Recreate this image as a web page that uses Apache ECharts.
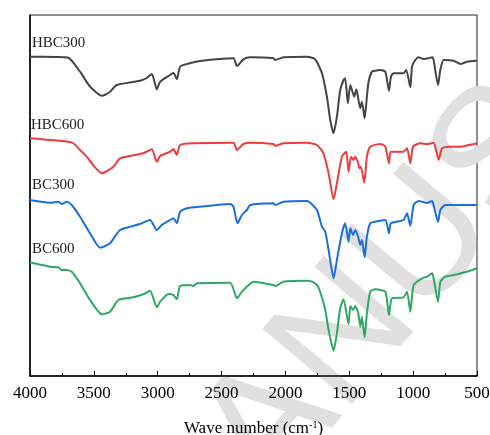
<!DOCTYPE html>
<html>
<head>
<meta charset="utf-8">
<script src="https://cdn.jsdelivr.net/npm/echarts@6/dist/echarts.min.js"></script>
<style>html,body{margin:0;padding:0;background:#fff;}#c{width:490px;height:435px;}</style>
</head>
<body>
<div id="c"></div>
<script>
// Wavenumber (cm-1), offset transmittance (a.u.)
var HBC300 = [[4000,319.3],[3800,319],[3700,318.3],[3608,304.3],[3530,289.3],[3438,280.3],[3373,284.3],[3321,291],[3138,295.3],[3086,298],[3046,302],[3007,286.7],[2981,294.3],[2903,301],[2877,303.3],[2850,296.7],[2825,309.3],[2772,312],[2668,315],[2407,317.7],[2380,310],[2329,316.7],[2276,318.7],[2094,317.7],[2080,316],[2015,318.7],[1832,319.3],[1767,316.7],[1714,302.7],[1675,279.3],[1649,256],[1623,242.7],[1597,259.3],[1571,286],[1545,296],[1532,297.7],[1511,272.7],[1492,291],[1461,279.3],[1445,286.7],[1414,267.7],[1401,274.3],[1380,257.7],[1362,279.3],[1349,294.3],[1323,304.3],[1297,305.3],[1257,306],[1218,304.3],[1189,285.3],[1174,299.3],[1153,302.7],[1075,302.7],[1054,306],[1022,288.7],[1009,309.3],[983,316],[957,318.7],[918,317],[879,317.7],[852,318.7],[840,316],[805,291],[787,306],[761,316],[683,315.3],[630,312],[578,314.3],[500,315.3]];
var HBC600 = [[4000,237.7],[3700,234.3],[3661,232.7],[3608,226],[3556,219.3],[3500,210],[3438,202.7],[3347,209.3],[3295,217.7],[3138,222],[3086,224.3],[3046,226.7],[3007,214.3],[2981,220],[2903,224.3],[2877,227],[2850,221],[2825,231],[2720,232.7],[2407,233.3],[2380,226],[2329,232],[2276,233.3],[2094,232],[2080,230.3],[2015,232.7],[1832,233.3],[1753,231],[1702,222.7],[1662,202.7],[1623,176.7],[1597,192.7],[1558,219.3],[1524,224.3],[1506,204.3],[1487,219.3],[1467,216],[1453,219.3],[1430,213],[1420,207.7],[1409,209.3],[1383,193.3],[1362,219.3],[1336,229.3],[1257,232],[1218,229.3],[1189,212.7],[1174,224.3],[1075,224.3],[1048,227.7],[1022,212.7],[1001,229.3],[944,232.7],[891,232],[840,233.3],[800,216],[774,227.7],[722,229.3],[630,229.3],[526,232],[500,232.7]];
var BC300 = [[4000,176],[3843,173.3],[3778,174.3],[3752,172],[3712,174.3],[3673,171],[3608,159.3],[3530,142.7],[3451,128.3],[3373,132.7],[3295,146],[3138,152],[3060,156],[3007,146],[2968,151],[2903,156],[2877,157.7],[2850,152.7],[2825,164.3],[2772,167.7],[2668,169.3],[2433,172],[2407,169.3],[2376,152.7],[2341,161],[2302,166],[2276,171],[2094,172.7],[2080,171],[2015,174.3],[1832,175],[1806,173.3],[1753,166],[1714,149.3],[1688,144.3],[1662,126],[1623,97.7],[1597,116],[1558,142.7],[1532,152.7],[1506,134.3],[1492,147.7],[1471,141],[1453,146],[1430,139],[1414,131],[1401,136],[1380,118.7],[1362,139.3],[1336,152.7],[1297,154.3],[1218,156],[1189,142.7],[1174,152.7],[1075,156],[1048,162.7],[1022,150],[996,171],[957,175],[930,174.3],[891,173],[852,175],[840,171],[805,154.3],[787,166],[748,171],[683,171],[500,171]];
var BC600 = [[4000,113.7],[3843,109.3],[3778,108.7],[3752,106],[3712,106],[3673,104.3],[3608,92.7],[3530,76],[3438,61.7],[3373,64.3],[3308,76],[3191,78.7],[3112,81.7],[3060,85.3],[3007,68.7],[2981,74.3],[2916,82],[2877,81],[2850,76.7],[2825,90],[2746,91],[2720,90],[2694,92.7],[2433,93.3],[2380,77.7],[2341,84.3],[2302,89.3],[2250,94.3],[2094,91],[2080,90],[2015,94.3],[1832,95.3],[1792,94.3],[1753,91],[1728,84.3],[1688,66],[1662,46],[1623,25.3],[1597,42.7],[1571,67.7],[1545,76.7],[1506,52],[1492,70],[1471,66],[1453,70],[1430,63],[1414,49.3],[1401,59],[1380,38.7],[1362,62.7],[1336,84.3],[1297,86.7],[1218,84.3],[1189,61],[1166,77.7],[1075,78.7],[1048,84.3],[1022,64.3],[996,91],[930,97.7],[891,99.3],[852,102.7],[840,98],[805,74.3],[787,94.3],[748,99.3],[683,101],[578,104.3],[500,107.7]];

var seriesNames = ['HBC300','HBC600','BC300','BC600'];
var seriesData = [HBC300, HBC600, BC300, BC600];
var seriesColors = ['#444444','#ee3b3d','#1a6ee0','#2ea862'];
var xTicks = [4000,3500,3000,2500,2000,1500,1000,500];

var serif = '"Liberation Serif","Times New Roman",serif';
var chart = echarts.init(document.getElementById('c'), null, {renderer:'canvas'});

var labelPos = [[32,43],[31,125],[32,185],[32,249]];
var graphics = labelPos.map(function(p,i){
  return {type:'text', x:p[0], y:p[1], z:5,
    style:{text:seriesNames[i], font:'15px '+serif, fill:'#222', textAlign:'left', textVerticalAlign:'middle'}};
});
graphics.unshift({type:'text', x:505, y:150, rotation:0.87, z:0,
  style:{text:'MANUSCRIPT', font:'170px "Liberation Sans",Arial,sans-serif', fill:'#e0e0e0', textAlign:'center', textVerticalAlign:'middle'}});

chart.setOption({
  animation:false,
  backgroundColor:'#fff',
  grid:{left:30, right:13, top:15, bottom:59, outerBoundsMode:'none', containLabel:false, show:true, borderColor:'#222', borderWidth:1, backgroundColor:'transparent'},
  graphic:graphics,
  xAxis:{
    type:'value', inverse:true, min:500, max:4000, interval:500,
    splitLine:{show:false},
    axisLine:{show:true, onZero:false, lineStyle:{color:'#000', width:1.5}},
    axisTick:{show:true, inside:true, length:5, lineStyle:{color:'#000', width:1}},
    minorTick:{show:true, splitNumber:2, length:3, lineStyle:{color:'#000', width:1}},
    axisLabel:{color:'#000', fontFamily:serif, fontSize:17, margin:9,
      formatter:function(v){return xTicks.indexOf(v)>=0 ? String(v) : '';}},
    name:'{a|Wave number (cm}{b|-1}{a|)}', nameLocation:'middle', nameGap:44,
    nameTextStyle:{rich:{a:{fontFamily:serif, fontSize:17, color:'#000'}, b:{fontFamily:serif, fontSize:10, color:'#000', verticalAlign:'top', padding:[0,0,8,0]}}}
  },
  yAxis:{
    type:'value', min:0, max:361,
    axisLine:{show:true, lineStyle:{color:'#000', width:1.5}},
    axisTick:{show:false}, axisLabel:{show:false}, splitLine:{show:false}
  },
  series:seriesData.map(function(d,i){
    return {type:'line', name:seriesNames[i], data:d, symbol:'none', smooth:0.2, z:3,
      lineStyle:{color:seriesColors[i], width:2}};
  })
});
</script>
</body>
</html>
